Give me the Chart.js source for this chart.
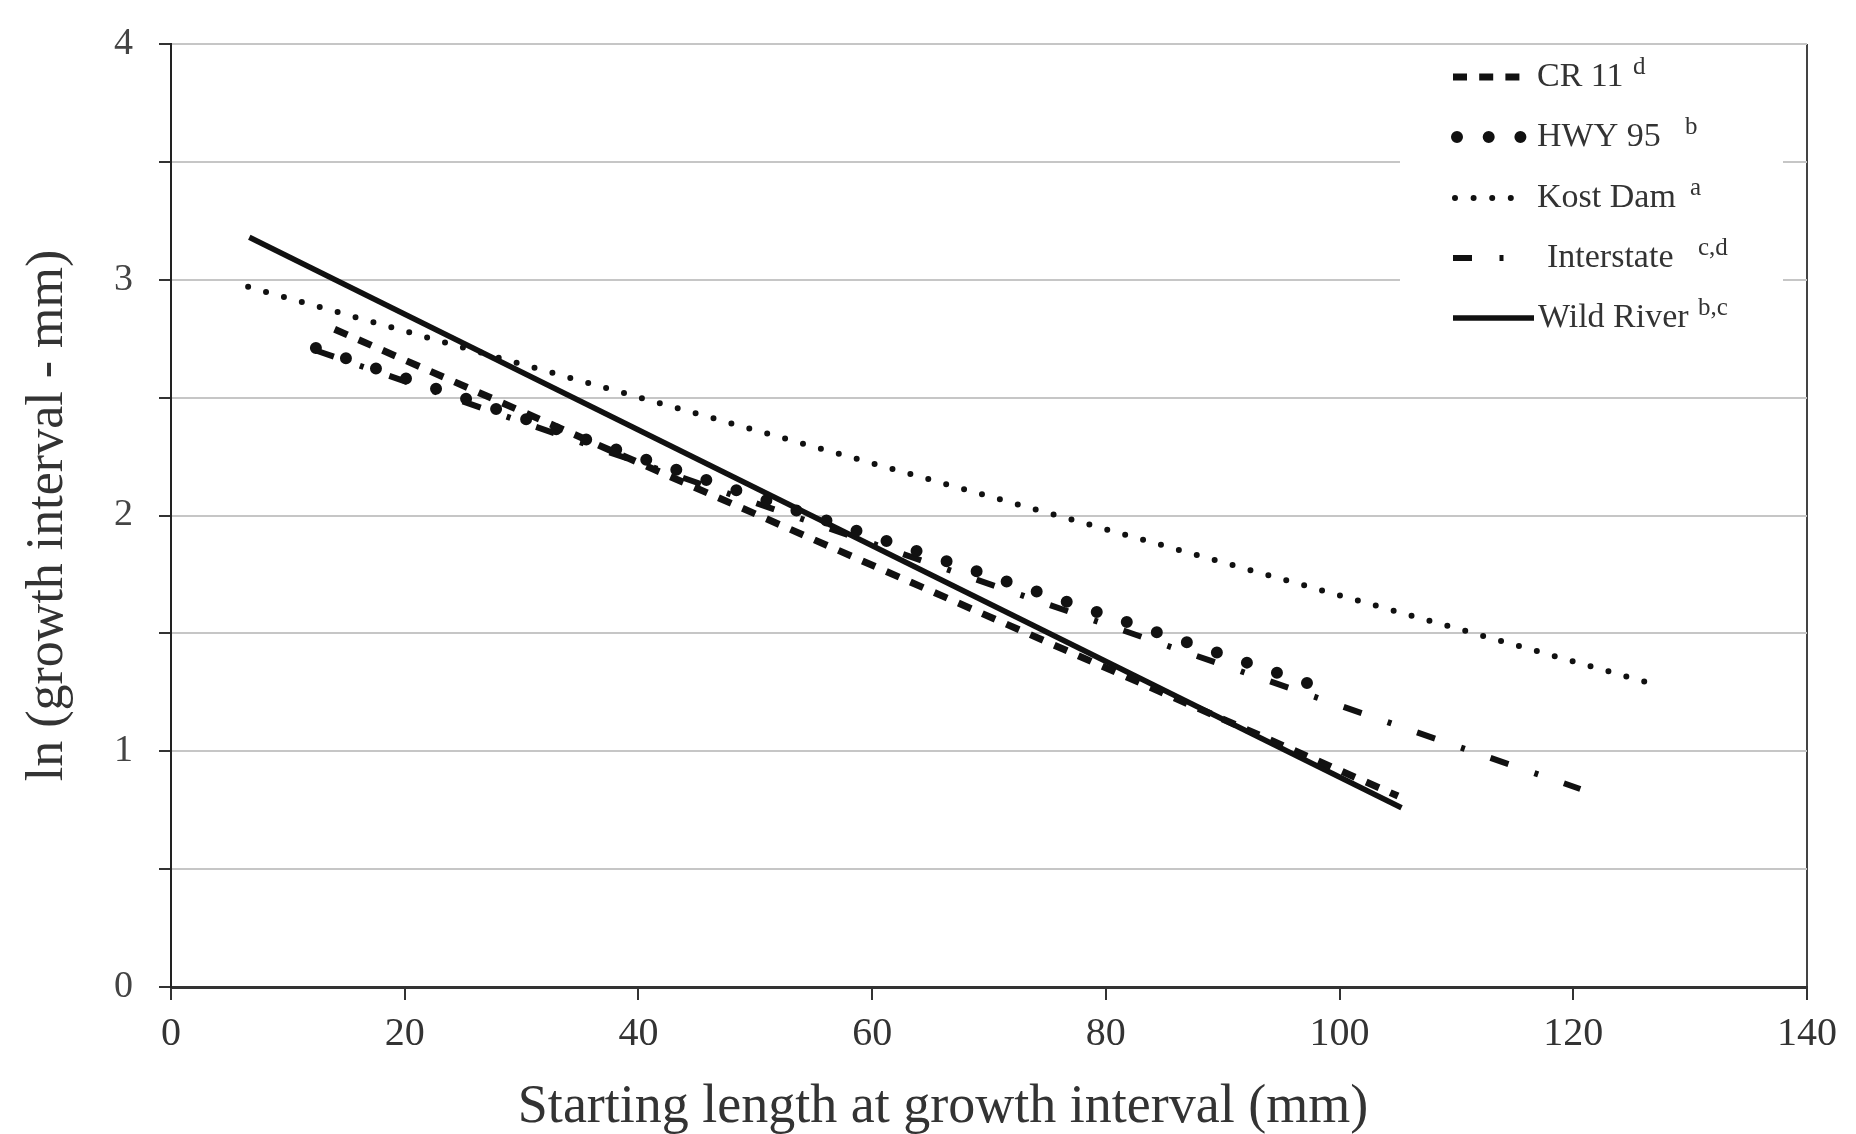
<!DOCTYPE html>
<html>
<head>
<meta charset="utf-8">
<script src="https://cdn.jsdelivr.net/npm/chart.js@4.4.1/dist/chart.umd.min.js"></script>
<style>
  html, body { margin: 0; padding: 0; background: #fff; }
  #wrap { width: 1856px; height: 1134px; }
</style>
</head>
<body>
<div id="wrap"><canvas id="growth" width="1856" height="1134"></canvas></div>
<script>
var seriesNames = ["CR 11", "HWY 95", "Kost Dam", "Interstate", "Wild River"];
var seriesSup = ["d", "b", "a", "c,d", "b,c"];

// ends of each fitted line
var cr11X = [14.0, 105.0];
var cr11Y = [2.79, 0.81];
var hwy95X = [12.4, 97.5];
var hwy95Y = [2.71, 1.285];
var kostX = [6.6, 126.5];
var kostY = [2.97, 1.29];
var interstateX = [12.4, 120.6];
var interstateY = [2.70, 0.84];
var wildX = [6.7, 105.3];
var wildY = [3.18, 0.76];

var xTicks = [0, 20, 40, 60, 80, 100, 120, 140];
var yTicks = [0, 1, 2, 3, 4];
var xTitle = "Starting length at growth interval (mm)";

var serif = "'Liberation Serif', 'DejaVu Serif', serif";
var ink = "#111";

function pts(xs, ys) {
  var out = [];
  for (var i = 0; i < xs.length; i++) out.push({ x: xs[i], y: ys[i] });
  return out;
}

function line(label, xs, ys, dash, width, cap) {
  return {
    label: label,
    data: pts(xs, ys),
    borderColor: ink,
    backgroundColor: ink,
    borderWidth: width,
    borderDash: dash,
    borderCapStyle: cap,
    pointRadius: 0,
    fill: false
  };
}

// legend drawn by hand so the samples keep the line patterns,
// x title drawn here too because it sits left of the plot centre
var legendBox = {
  id: "legendBox",
  afterDatasetsDraw: function (chart) {
    var ctx = chart.ctx;
    var sampleY = [77, 137, 198, 258, 318];
    var textX = [1537, 1537, 1537, 1547, 1538];
    var supX = [1633, 1685, 1690, 1698, 1698];
    var sampleEnd = [1520, 1521, 1516, 1510, 1534];
    var sampleStart = [1453, 1457, 1455, 1453, 1453];
    ctx.save();
    ctx.fillStyle = "#fff";
    ctx.fillRect(1400, 47, 383, 298);
    chart.data.datasets.forEach(function (ds, i) {
      var y = sampleY[i];
      ctx.beginPath();
      ctx.strokeStyle = ds.borderColor;
      ctx.lineWidth = ds.borderWidth;
      ctx.lineCap = ds.borderCapStyle;
      ctx.setLineDash(ds.borderDash);
      ctx.moveTo(sampleStart[i], y);
      ctx.lineTo(sampleEnd[i], y);
      ctx.stroke();
      ctx.setLineDash([]);
      ctx.fillStyle = "#333";
      ctx.textAlign = "left";
      ctx.textBaseline = "alphabetic";
      ctx.font = "34px " + serif;
      ctx.fillText(seriesNames[i], textX[i], y + 9);
      ctx.font = "25px " + serif;
      ctx.fillText(seriesSup[i], supX[i], y - 3);
    });

    ctx.fillStyle = "#333";
    ctx.textAlign = "center";
    ctx.textBaseline = "alphabetic";
    ctx.font = "54px " + serif;
    ctx.fillText(xTitle, 943, 1122);
    ctx.restore();
  }
};

var ctx = document.getElementById("growth").getContext("2d");
var chart = new Chart(ctx, {
  type: "line",
  data: {
    datasets: [
      line(seriesNames[0], cr11X, cr11Y, [14, 12.2], 7, "butt"),
      line(seriesNames[1], hwy95X, hwy95Y, [0, 31.7], 12, "round"),
      line(seriesNames[2], kostX, kostY, [0, 18.6], 6, "round"),
      line(seriesNames[3], interstateX, interstateY, [19, 27.5, 4, 27.2], 6, "butt"),
      line(seriesNames[4], wildX, wildY, [], 5.5, "butt")
    ]
  },
  options: {
    responsive: false,
    animation: false,
    layout: { padding: { left: 0, top: 44, right: 49, bottom: 0 } },
    plugins: {
      legend: { display: false },
      tooltip: { enabled: false }
    },
    scales: {
      x: {
        type: "linear",
        min: 0,
        max: 140,
        afterBuildTicks: function (scale) {
          scale.ticks = xTicks.map(function (v) { return { value: v }; });
        },
        afterFit: function (scale) { scale.height = 147; },
        grid: {
          color: function (c) {
            return c.tick && c.tick.value === 140 ? "#444" : "rgba(0,0,0,0)";
          },
          lineWidth: 2,
          tickColor: "#333",
          tickLength: 13,
          tickWidth: 2
        },
        border: { color: "#333", width: 3 },
        ticks: {
          font: { family: serif, size: 40 },
          color: "#333",
          padding: 10,
          maxRotation: 0
        },
        title: { display: false }
      },
      y: {
        type: "linear",
        min: 0,
        max: 4,
        afterFit: function (scale) { scale.width = 171; },
        grid: {
          color: "#c6c6c6",
          lineWidth: 2,
          tickColor: "#333",
          tickLength: 12,
          tickWidth: 2
        },
        border: { color: "#222", width: 2 },
        ticks: {
          stepSize: 0.5,
          font: { family: serif, size: 38, lineHeight: 0.9 },
          color: "#444",
          padding: 26,
          callback: function (value) {
            return yTicks.indexOf(value) >= 0 ? String(value) : "";
          }
        },
        title: {
          display: true,
          text: "ln (growth interval - mm)",
          font: { family: serif, size: 52, lineHeight: 1.2 },
          color: "#333",
          padding: { top: 17, bottom: 0 }
        }
      }
    }
  },
  plugins: [legendBox]
});
</script>
</body>
</html>
